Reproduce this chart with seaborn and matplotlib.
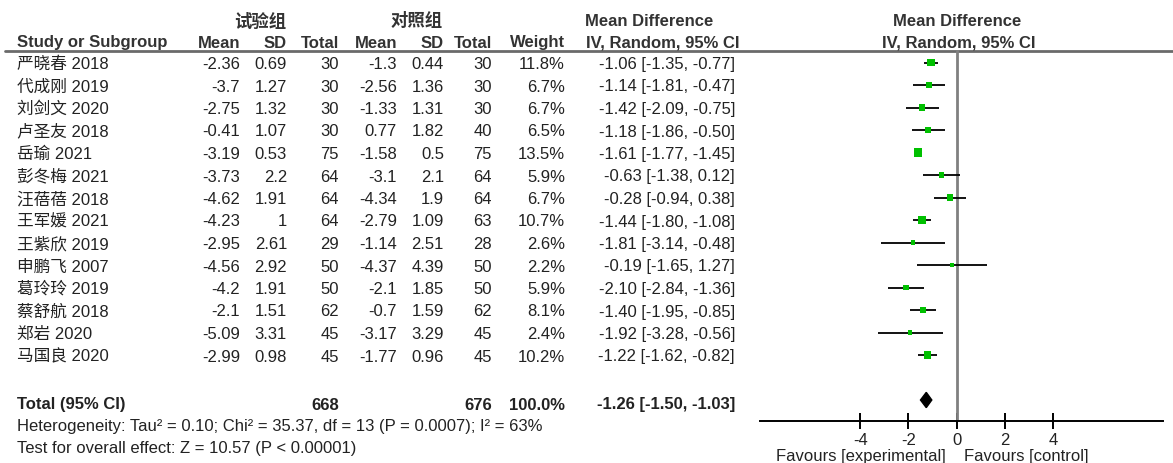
import numpy as np
import pandas as pd
import matplotlib
matplotlib.use("Agg")
import matplotlib.pyplot as plt
import seaborn as sns
from matplotlib.lines import Line2D

# ---- data ----
studies = ["严晓春 2018", "代成刚 2019", "刘剑文 2020", "卢圣友 2018", "岳瑜 2021",
           "彭冬梅 2021", "汪蓓蓓 2018", "王军媛 2021", "王紫欣 2019", "申鹏飞 2007",
           "葛玲玲 2019", "蔡舒航 2018", "郑岩 2020", "马国良 2020"]
exp_mean = [-2.36, -3.7, -2.75, -0.41, -3.19, -3.73, -4.62, -4.23, -2.95, -4.56, -4.2, -2.1, -5.09, -2.99]
exp_sd = [0.69, 1.27, 1.32, 1.07, 0.53, 2.2, 1.91, 1, 2.61, 2.92, 1.91, 1.51, 3.31, 0.98]
exp_n = [30, 30, 30, 30, 75, 64, 64, 64, 29, 50, 50, 62, 45, 45]
ctl_mean = [-1.3, -2.56, -1.33, 0.77, -1.58, -3.1, -4.34, -2.79, -1.14, -4.37, -2.1, -0.7, -3.17, -1.77]
ctl_sd = [0.44, 1.36, 1.31, 1.82, 0.5, 2.1, 1.9, 1.09, 2.51, 4.39, 1.85, 1.59, 3.29, 0.96]
ctl_n = [30, 30, 30, 40, 75, 64, 64, 63, 28, 50, 50, 62, 45, 45]
weight = [11.8, 6.7, 6.7, 6.5, 13.5, 5.9, 6.7, 10.7, 2.6, 2.2, 5.9, 8.1, 2.4, 10.2]
md = [-1.06, -1.14, -1.42, -1.18, -1.61, -0.63, -0.28, -1.44, -1.81, -0.19, -2.10, -1.40, -1.92, -1.22]
ci_lo = [-1.35, -1.81, -2.09, -1.86, -1.77, -1.38, -0.94, -1.80, -3.14, -1.65, -2.84, -1.95, -3.28, -1.62]
ci_hi = [-0.77, -0.47, -0.75, -0.50, -1.45, 0.12, 0.38, -1.08, -0.48, 1.27, -1.36, -0.85, -0.56, -0.82]

total_exp_n = 668
total_ctl_n = 676
total_weight = 100.0
total_md, total_lo, total_hi = -1.26, -1.50, -1.03
heterogeneity = "Heterogeneity: Tau² = 0.10; Chi² = 35.37, df = 13 (P = 0.0007); I² = 63%"
overall = "Test for overall effect: Z = 10.57 (P < 0.00001)"
xticks = [-4, -2, 0, 2, 4]

df = pd.DataFrame({"study": studies, "md": md, "lo": ci_lo, "hi": ci_hi, "weight": weight})
df["row"] = np.arange(len(df))
total_row = len(df) + 1  # one blank row before the pooled estimate

# ---- styling ----
sns.set_theme(style="white")
plt.rcParams["font.family"] = ["Liberation Sans", "Noto Sans CJK SC"]
plt.rcParams["axes.unicode_minus"] = False

W, H = 1173, 463
fig = plt.figure(figsize=(W / 100, H / 100), dpi=100)

# table layer in pixel coordinates
tab = fig.add_axes([0, 0, 1, 1])
tab.set_xlim(0, W)
tab.set_ylim(H, 0)
tab.axis("off")

ROW0, STEP = 62.5, 22.5
BASE = 6.5  # baseline offset below the row centre (px)

def row_y(i):
    return ROW0 + STEP * i

txt = "#222222"
hdr = "#333333"
fs = 12

def put(x, y, s, ha="left", bold=False, size=fs, color=txt):
    tab.text(x, y + BASE, s, ha=ha, va="baseline", fontsize=size,
             fontweight="bold" if bold else "normal", color=color)

# headers
put(260, 20, "试验组", ha="center", bold=True, size=12.5, color=hdr)
put(417, 20, "对照组", ha="center", bold=True, size=12.5, color=hdr)
put(585, 20, "Mean Difference", bold=True, color=hdr)
put(957, 20, "Mean Difference", ha="center", bold=True, color=hdr)
put(959, 41, "IV, Random, 95% CI", ha="center", bold=True, color=hdr)

cols_right = [240, 287, 339, 397, 444, 492, 565]
head_labels = ["Mean", "SD", "Total", "Mean", "SD", "Total", "Weight"]
put(17, 41, "Study or Subgroup", bold=True, color=hdr)
for x, lab in zip(cols_right, head_labels):
    put(x, 41, lab, ha="right", bold=True, color=hdr)
put(586, 41, "IV, Random, 95% CI", bold=True, color=hdr)
tab.add_line(Line2D([5, W], [50.7, 50.7], color="#6a6a6a", lw=2))

# study rows
for i in range(len(studies)):
    y = row_y(i)
    put(17, y, studies[i])
    vals = [f"{exp_mean[i]:g}", f"{exp_sd[i]:g}", f"{exp_n[i]}",
            f"{ctl_mean[i]:g}", f"{ctl_sd[i]:g}", f"{ctl_n[i]}", f"{weight[i]:.1f}%"]
    for x, v in zip(cols_right, vals):
        put(x, y, v, ha="right")
    put(735, y, f"{md[i]:.2f} [{ci_lo[i]:.2f}, {ci_hi[i]:.2f}]", ha="right")

# total rows
yt = row_y(total_row) + 3
put(17, yt, "Total (95% CI)", bold=True)
put(339, yt, f"{total_exp_n}", ha="right", bold=True)
put(492, yt, f"{total_ctl_n}", ha="right", bold=True)
put(565, yt, f"{total_weight:.1f}%", ha="right", bold=True)
put(735, yt, f"{total_md:.2f} [{total_lo:.2f}, {total_hi:.2f}]", ha="right", bold=True)
put(17, 425, heterogeneity)
put(17, 447, overall)

# ---- forest plot axes ----
x0, x1 = 760, 1163
y_top, y_axis = 50, 421
ax = fig.add_axes([x0 / W, (H - y_axis) / H, (x1 - x0) / W, (y_axis - y_top) / H])
ax.set_facecolor("none")
ax.set_xlim(-8.15, 8.55)
ax.set_ylim((y_axis - ROW0) / STEP, (y_top - ROW0) / STEP)

ax.axvline(0, color="#808080", lw=2, zorder=1)
ax.hlines(df["row"], df["lo"], df["hi"], color="black", lw=1.3, zorder=2)
sns.scatterplot(data=df, x="md", y="row", size="weight", sizes=(9, 36),
                size_norm=(min(weight), max(weight)), marker="s", color="#00c000", linewidth=0,
                legend=False, zorder=3, ax=ax)

# pooled diamond
h = 0.34
ax.fill([total_lo, total_md, total_hi, total_md],
        [total_row, total_row - h, total_row, total_row + h],
        color="black", zorder=3)

for s in ["top", "left", "right"]:
    ax.spines[s].set_visible(False)
ax.spines["bottom"].set_color("black")
ax.spines["bottom"].set_linewidth(1.4)
ax.set_yticks([])
ax.set_xticks(xticks)
ax.set_xticklabels([f"{t}" for t in xticks])
ax.tick_params(axis="x", direction="inout", length=11, width=1.4, color="black",
               labelsize=12, pad=3, labelcolor=txt, bottom=True)
ax.set_xlabel("")
ax.set_ylabel("")

fav_y = -(456 - y_axis) / (y_axis - y_top)
ax.text(-0.45, fav_y, "Favours [experimental]", transform=ax.get_xaxis_transform(), ha="right", va="center",
        fontsize=fs, color=txt)
ax.text(0.3, fav_y, "Favours [control]", transform=ax.get_xaxis_transform(), ha="left", va="center",
        fontsize=fs, color=txt)

fig.savefig("out.png", dpi=100)
